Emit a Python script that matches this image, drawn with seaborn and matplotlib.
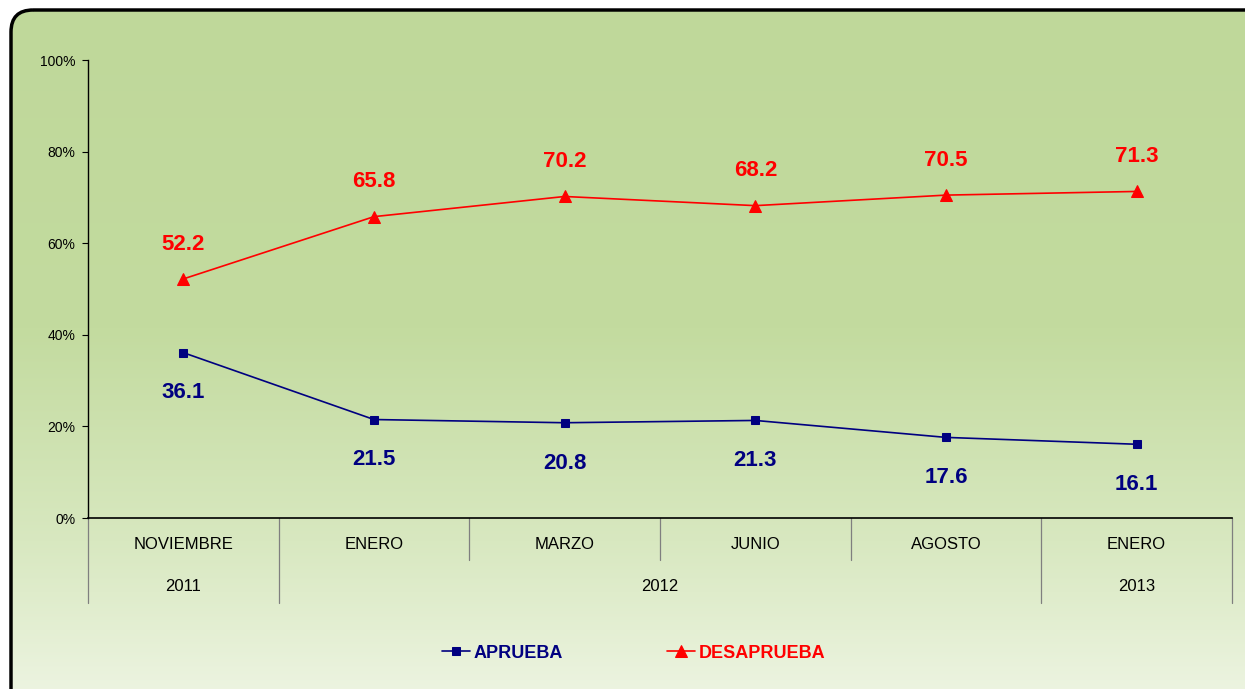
import numpy as np
import matplotlib
matplotlib.use("Agg")
import matplotlib.pyplot as plt
import seaborn as sns
from matplotlib.patches import FancyBboxPatch
from matplotlib.colors import LinearSegmentedColormap

# data
months = ["NOVIEMBRE", "ENERO", "MARZO", "JUNIO", "AGOSTO", "ENERO"]
years = ["2011", "2012", "2013"]
year_spans = [(0, 0), (1, 4), (5, 5)]  # first/last month index per year
aprueba = [36.1, 21.5, 20.8, 21.3, 17.6, 16.1]
desaprueba = [52.2, 65.8, 70.2, 68.2, 70.5, 71.3]
yticks = [0, 20, 40, 60, 80, 100]

sns.set_style("white")
plt.rcParams['font.family'] = ['Liberation Sans', 'DejaVu Sans']

W, H = 1245, 689
fig = plt.figure(figsize=(W / 100, H / 100), dpi=100)

# background gradient + rounded border
bg = fig.add_axes([0, 0, 1, 1])
bg.set_xlim(0, W)
bg.set_ylim(H, 0)
bg.axis("off")
cmap = LinearSegmentedColormap.from_list(
    "g", [(0, "#bfd89a"), (0.45, "#c3db9f"), (0.75, "#d8e8c0"), (1, "#f0f6e6")])
grad = np.linspace(0, 1, 256).reshape(-1, 1)
box = FancyBboxPatch((11, 10), W + 20, H + 20, boxstyle="round,pad=0,rounding_size=22",
                     facecolor="none", edgecolor="black", linewidth=2.5)
bg.add_patch(box)
im = bg.imshow(grad, cmap=cmap, extent=[11, W + 30, H + 30, 10], aspect="auto", zorder=0)
im.set_clip_path(box)

# main axes
x0, x1, ytop, ybot = 88, 1232, 60, 518
ax = fig.add_axes([x0 / W, 1 - ybot / H, (x1 - x0) / W, (ybot - ytop) / H])
ax.patch.set_alpha(0)
xs = np.arange(len(months))

sns.lineplot(x=xs, y=aprueba, ax=ax, color="#000080", marker="s", markersize=6,
             markeredgecolor="#000080", linewidth=1.2, label="APRUEBA", legend=False)
sns.lineplot(x=xs, y=desaprueba, ax=ax, color="#ff0000", marker="^", markersize=9,
             markeredgecolor="#ff0000", linewidth=1.2, label="DESAPRUEBA", legend=False)

for x, v in zip(xs, aprueba):
    ax.annotate(f"{v:.1f}", (x, v), xytext=(0, -29), textcoords="offset points",
                ha="center", va="center", color="#000080", fontsize=16, fontweight="bold")
for x, v in zip(xs, desaprueba):
    ax.annotate(f"{v:.1f}", (x, v), xytext=(0, 25), textcoords="offset points",
                ha="center", va="center", color="#ff0000", fontsize=16, fontweight="bold")

ax.set_xlim(-0.5, len(months) - 0.5)
ax.set_ylim(0, 100)
ax.set_yticks(yticks)
ax.set_yticklabels([f"{t}%" for t in yticks], fontsize=10, color="black")
ax.set_xticks([])
ax.tick_params(axis="y", direction="out", length=4, width=0.8, color="black", pad=5, left=True)
for s in ["top", "right"]:
    ax.spines[s].set_visible(False)
ax.spines["left"].set_color("black")
ax.spines["bottom"].set_color("black")
ax.spines["left"].set_linewidth(1)
ax.spines["bottom"].set_linewidth(1.2)

# multi-level category axis
tr = ax.get_xaxis_transform()
row1, row2 = -0.057, -0.15
low1, low2 = -0.092, -0.185
for i, m in enumerate(months):
    ax.text(i, row1, m, transform=tr, ha="center", va="center", fontsize=12,
            color="black", clip_on=False)
month_bounds = np.arange(len(months) + 1) - 0.5
year_bounds = set()
for a, b in year_spans:
    year_bounds.add(a - 0.5)
    year_bounds.add(b + 0.5)
for xb in month_bounds:
    bottom = low2 if xb in year_bounds else low1
    ax.plot([xb, xb], [0, bottom], transform=tr, color="#7f7f7f", lw=0.9, clip_on=False)
for yname, (a, b) in zip(years, year_spans):
    ax.text((a + b) / 2, row2, yname, transform=tr, ha="center", va="center",
            fontsize=12, color="black", clip_on=False)

# legend
handles, labels = ax.get_legend_handles_labels()
leg = fig.legend(handles, labels, loc="center", bbox_to_anchor=(0.509, 1 - 653 / H), ncol=2,
                 frameon=False, handlelength=1.55, columnspacing=5.8, handletextpad=0.2,
                 prop={"weight": "bold", "size": 13})
for t, c in zip(leg.get_texts(), ["#000080", "#ff0000"]):
    t.set_color(c)

fig.savefig("out.png", dpi=100)
